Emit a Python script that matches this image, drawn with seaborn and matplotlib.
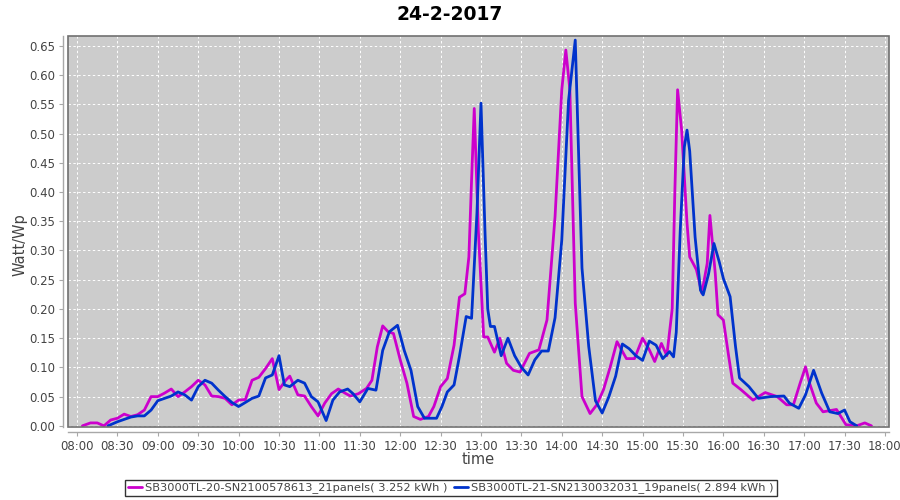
import matplotlib
matplotlib.use("Agg")
import pandas as pd
import matplotlib.pyplot as plt
import matplotlib.dates as mdates
from matplotlib.lines import Line2D
from matplotlib.patches import Rectangle
import seaborn as sns

# --- data (minutes after 08:00, Watt/Wp) ---
naam_20 = "SB3000TL-20-SN2100578613_21panels( 3.252 kWh )"
naam_21 = "SB3000TL-21-SN2130032031_19panels( 2.894 kWh )"

min_20 = [4, 10, 15, 20, 25, 30, 35, 40, 45, 50, 55, 60, 65, 70, 75, 80, 85, 90, 95, 100,
          105, 110, 115, 120, 125, 130, 135, 140, 145, 150, 155, 158, 164, 169, 174, 179, 184, 189, 194, 199,
          203, 209, 215, 219, 223, 227, 231, 235, 240, 245, 250, 255, 261, 265, 270, 275, 280, 284, 288, 291,
          293, 295, 298, 302, 305, 310, 314, 319, 324, 329, 336, 343, 349, 355, 360, 363, 366, 370, 375, 381,
          386, 391, 396, 401, 408, 414, 420, 425, 429, 434, 438, 442, 444, 446, 449, 453, 455, 458, 460, 464,
          468, 470, 474, 476, 480, 484, 487, 493, 502, 511, 520, 527, 532, 537, 541, 544, 549, 554, 564, 571,
          579, 585, 590]
watt_20 = [0.0, 0.005, 0.005, 0.0, 0.01, 0.013, 0.02, 0.016, 0.019, 0.027, 0.05, 0.05, 0.056, 0.063, 0.05, 0.058, 0.067, 0.078, 0.07, 0.051,
           0.05, 0.047, 0.036, 0.044, 0.045, 0.078, 0.083, 0.098, 0.115, 0.062, 0.078, 0.085, 0.053, 0.051, 0.033, 0.017, 0.039, 0.055, 0.063, 0.056,
           0.051, 0.055, 0.064, 0.078, 0.135, 0.171, 0.161, 0.158, 0.113, 0.073, 0.016, 0.011, 0.016, 0.033, 0.067, 0.081, 0.138, 0.22, 0.226, 0.289,
           0.42, 0.543, 0.335, 0.152, 0.152, 0.126, 0.15, 0.107, 0.095, 0.092, 0.124, 0.13, 0.181, 0.358, 0.575, 0.643, 0.575, 0.21, 0.05, 0.021,
           0.036, 0.062, 0.101, 0.144, 0.115, 0.115, 0.15, 0.13, 0.11, 0.141, 0.12, 0.2, 0.404, 0.575, 0.506, 0.347, 0.289, 0.276, 0.267, 0.227,
           0.278, 0.36, 0.26, 0.19, 0.181, 0.118, 0.073, 0.062, 0.044, 0.057, 0.05, 0.036, 0.036, 0.073, 0.101, 0.073, 0.039, 0.024, 0.028, 0.002,
           0.0, 0.005, 0.0]

min_21 = [23, 25, 30, 35, 40, 45, 50, 55, 60, 65, 70, 75, 80, 85, 90, 95, 100, 105, 110, 115,
          120, 125, 130, 135, 140, 145, 150, 154, 158, 164, 169, 174, 179, 185, 190, 195, 201, 205, 210, 216,
          222, 227, 232, 238, 243, 248, 253, 258, 267, 271, 275, 280, 284, 289, 293, 297, 300, 303, 305, 307,
          310, 315, 320, 325, 330, 335, 340, 345, 350, 355, 360, 365, 370, 375, 380, 385, 390, 395, 400, 405,
          410, 415, 420, 425, 430, 435, 440, 443, 445, 448, 451, 453, 455, 459, 463, 465, 469, 473, 477, 480,
          485, 489, 492, 499, 506, 515, 525, 529, 536, 541, 547, 553, 559, 565, 570, 574, 579]
watt_21 = [0.0, 0.002, 0.007, 0.011, 0.015, 0.017, 0.017, 0.027, 0.043, 0.047, 0.051, 0.058, 0.053, 0.044, 0.067, 0.078, 0.073, 0.061, 0.05, 0.04,
           0.033, 0.04, 0.047, 0.051, 0.082, 0.087, 0.12, 0.07, 0.067, 0.078, 0.073, 0.05, 0.041, 0.009, 0.044, 0.058, 0.063, 0.055, 0.041, 0.064,
           0.061, 0.129, 0.161, 0.172, 0.129, 0.095, 0.033, 0.013, 0.013, 0.033, 0.058, 0.07, 0.119, 0.187, 0.184, 0.364, 0.552, 0.33, 0.2, 0.17,
           0.17, 0.12, 0.15, 0.12, 0.10, 0.087, 0.113, 0.128, 0.128, 0.185, 0.318, 0.556, 0.66, 0.27, 0.136, 0.043, 0.022, 0.05, 0.085, 0.14,
           0.132, 0.12, 0.112, 0.145, 0.138, 0.115, 0.127, 0.118, 0.16, 0.336, 0.477, 0.506, 0.47, 0.323, 0.232, 0.224, 0.26, 0.312, 0.28, 0.252,
           0.221, 0.136, 0.082, 0.067, 0.047, 0.05, 0.051, 0.039, 0.03, 0.053, 0.095, 0.056, 0.024, 0.021, 0.027, 0.007, 0.0]

y_ticks = [0.00, 0.05, 0.10, 0.15, 0.20, 0.25, 0.30, 0.35, 0.40, 0.45, 0.50, 0.55, 0.60, 0.65]

kleuren = ["#CC00CC", "#0033CC"]

start = pd.Timestamp("2017-02-24 08:00")
df = pd.concat([
    pd.DataFrame({"time": start + pd.to_timedelta(min_20, unit="min"), "watt": watt_20, "serie": naam_20}),
    pd.DataFrame({"time": start + pd.to_timedelta(min_21, unit="min"), "watt": watt_21, "serie": naam_21}),
])

sns.set_theme(style="white")
plt.rcParams["font.family"] = ["DejaVu Sans"]

fig = plt.figure(figsize=(9, 5), dpi=100)
ax = fig.add_axes([68 / 900, 1 - 427 / 500, (889 - 68) / 900, (427 - 36) / 500])
ax.set_facecolor("#CCCCCC")

sns.lineplot(data=df, x="time", y="watt", hue="serie", palette=kleuren,
             estimator=None, linewidth=2, ax=ax, legend=False)

# assen
ax.set_xlim(start - pd.Timedelta(minutes=6.7), start + pd.Timedelta(minutes=603))
ax.set_ylim(-0.002, 0.667)
ax.set_yticks(y_ticks)
ax.yaxis.set_major_formatter(matplotlib.ticker.FormatStrFormatter("%.2f"))
ax.xaxis.set_major_locator(mdates.MinuteLocator(byminute=[0, 30]))
ax.xaxis.set_major_formatter(mdates.DateFormatter("%H:%M"))
ax.set_xlabel("")
ax.set_ylabel("")

ax.grid(True, color="white", linestyle=(0, (2.5, 2.5)), linewidth=0.7)
ax.set_axisbelow(True)

for s in ["top", "right"]:
    ax.spines[s].set_visible(False)
for s in ["left", "bottom"]:
    ax.spines[s].set_position(("outward", 3.5))
    ax.spines[s].set_color("#A8A8A8")
    ax.spines[s].set_linewidth(1)
ax.add_patch(Rectangle((0, 0), 1, 1, transform=ax.transAxes, fill=False,
                       edgecolor="#707070", linewidth=1.2, clip_on=False, zorder=5))

ax.tick_params(bottom=True, left=True, direction="out", length=3, width=0.8,
               color="#A8A8A8", labelcolor="#444444", labelsize=8.5, pad=3)

# teksten
fig.text(0.5, 1 - 14 / 500, "24-2-2017", ha="center", va="center",
         fontsize=13.5, fontweight="bold", color="black")
fig.text(20 / 900, 1 - 245 / 500, "Watt/Wp", ha="center", va="center",
         rotation=90, fontsize=10.5, color="#444444")
fig.text(478 / 900, 1 - 460 / 500, "time", ha="center", va="center",
         fontsize=10.5, color="#444444")

handles = [Line2D([], [], color=kleuren[0], linewidth=2),
           Line2D([], [], color=kleuren[1], linewidth=2)]
leg = fig.legend(handles, [naam_20, naam_21], loc="center", ncol=2,
                 bbox_to_anchor=(451 / 900, 1 - 488 / 500), fontsize=8.2,
                 frameon=True, fancybox=False, handlelength=1.2, handletextpad=0.3,
                 columnspacing=0.6, borderpad=0.25, borderaxespad=0)
leg.get_frame().set_edgecolor("black")
leg.get_frame().set_linewidth(1)
for t in leg.get_texts():
    t.set_color("#444444")

fig.savefig("out.png", dpi=100)
